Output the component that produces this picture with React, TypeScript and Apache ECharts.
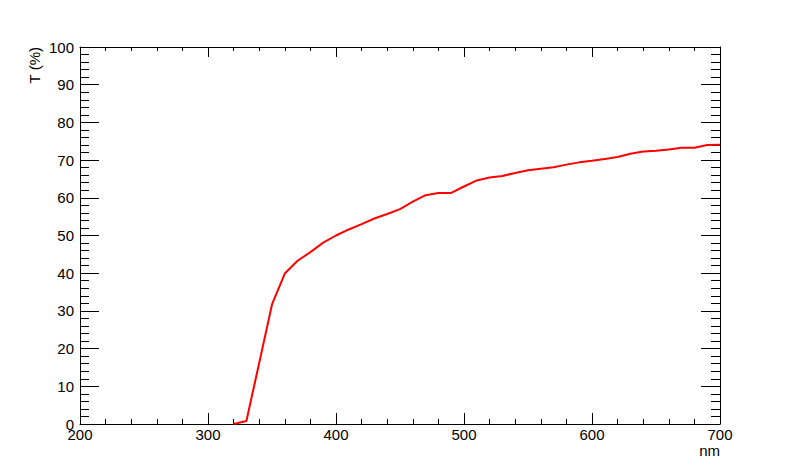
import { useEffect, useRef } from "react";
import * as echarts from "echarts";

// wavelength (nm) and transmission (%)
const WAVELENGTH = [
  320, 330, 340, 350, 360, 370, 380, 390, 400, 410, 420, 430, 440, 450, 460, 470, 480, 490, 500,
  510, 520, 530, 540, 550, 560, 570, 580, 590, 600, 610, 620, 630, 640, 650, 660, 670, 680, 690, 700,
];
const TRANSMISSION = [
  0, 0.8, 16.2, 31.7, 39.9, 43.3, 45.6, 48.1, 50.0, 51.6, 53.0, 54.5, 55.7, 57.0, 59.0, 60.7, 61.3,
  61.3, 63.0, 64.6, 65.4, 65.8, 66.6, 67.3, 67.7, 68.1, 68.8, 69.4, 69.8, 70.3, 70.8, 71.7, 72.3,
  72.5, 72.8, 73.3, 73.3, 74.0, 74.1,
];

const X_RANGE = [200, 700];
const Y_RANGE = [0, 100];
const X_TITLE = "nm";
const Y_TITLE = "T (%)";

const FONT = "Liberation Sans, Arial, Helvetica, sans-serif";

export default function App() {
  const chartRef = useRef<HTMLDivElement>(null);

  useEffect(() => {
    document.body.style.margin = "0";
    if (!chartRef.current) return;
    const chart = echarts.init(chartRef.current, undefined, { renderer: "svg" });

    const line = { lineStyle: { color: "#000", width: 1 } };

    const xBase = {
      type: "value" as const,
      min: X_RANGE[0],
      max: X_RANGE[1],
      interval: 100,
      axisLine: { show: true, onZero: false, ...line },
      splitLine: { show: false },
    };
    const yBase = {
      type: "value" as const,
      min: Y_RANGE[0],
      max: Y_RANGE[1],
      interval: 10,
      axisLine: { show: true, onZero: false, ...line },
      splitLine: { show: false },
    };

    chart.setOption({
      animation: false,
      backgroundColor: "#fff",
      grid: { left: 80, right: 80, top: 47, bottom: 48, containLabel: false },
      xAxis: [
        {
          ...xBase,
          position: "bottom",
          axisTick: { show: true, inside: true, length: 11, ...line },
          minorTick: { show: true, splitNumber: 5, length: 5, ...line },
          axisLabel: { color: "#000", fontSize: 15, fontFamily: FONT, margin: 3 },
        },
        {
          ...xBase,
          position: "top",
          axisTick: { show: true, inside: true, length: 10, ...line },
          minorTick: { show: true, splitNumber: 5, length: 4, ...line },
          axisLabel: { show: false },
        },
      ],
      yAxis: [
        {
          ...yBase,
          position: "left",
          axisTick: { show: true, inside: true, length: 19, ...line },
          minorTick: { show: true, splitNumber: 5, length: 9, ...line },
          axisLabel: { color: "#000", fontSize: 15, fontFamily: FONT, margin: 6 },
        },
        {
          ...yBase,
          position: "right",
          axisTick: { show: true, inside: true, length: 19, ...line },
          minorTick: { show: true, splitNumber: 5, length: 9, ...line },
          axisLabel: { show: false },
        },
      ],
      graphic: [
        {
          type: "text",
          x: 720,
          y: 450,
          style: {
            text: X_TITLE,
            font: `15px ${FONT}`,
            fill: "#000",
            textAlign: "right",
            textVerticalAlign: "middle",
          },
        },
        {
          type: "text",
          x: 34,
          y: 47,
          rotation: Math.PI / 2,
          style: {
            text: Y_TITLE,
            font: `15px ${FONT}`,
            fill: "#000",
            textAlign: "right",
            textVerticalAlign: "middle",
          },
        },
      ],
      series: [
        {
          type: "line",
          xAxisIndex: 0,
          yAxisIndex: 0,
          data: WAVELENGTH.map((w, i) => [w, TRANSMISSION[i]]),
          showSymbol: false,
          symbol: "none",
          lineStyle: { color: "#ff0000", width: 2 },
        },
      ],
    });

    return () => chart.dispose();
  }, []);

  return <div ref={chartRef} style={{ width: 800, height: 472 }} />;
}
